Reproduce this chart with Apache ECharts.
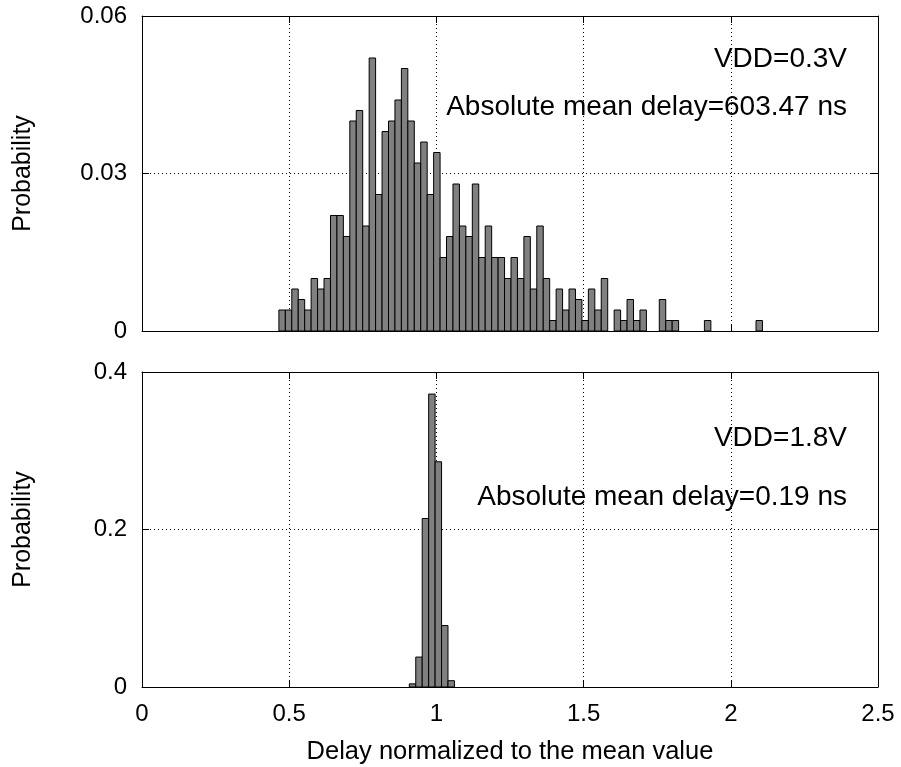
<!DOCTYPE html>
<html>
<head>
<meta charset="utf-8">
<script src="https://cdn.jsdelivr.net/npm/echarts@6/dist/echarts.min.js"></script>
<style>
html, body { margin: 0; padding: 0; background: #fff; }
#chart { width: 901px; height: 767px; }
</style>
</head>
<body>
<div id="chart"></div>
<script>
// histogram bins (x = delay / mean delay), one probability per bin
const binWidth = 0.0219
const lowBinStart = 0.465
const lowProb = [
    0.004, 0.004, 0.008, 0.006, 0.004, 0.010, 0.008, 0.010, 0.022, 0.022,
    0.018, 0.040, 0.042, 0.020, 0.052, 0.026, 0.038, 0.040, 0.044, 0.050,
    0.040, 0.032, 0.036, 0.026, 0.034, 0.014, 0.018, 0.028, 0.020, 0.018,
    0.028, 0.014, 0.020, 0.014, 0.014, 0.010, 0.014, 0.010, 0.018, 0.008,
    0.020, 0.010, 0.002, 0.008, 0.004, 0.008, 0.006, 0.002, 0.008, 0.004,
    0.010, 0, 0.004, 0.002, 0.006, 0.002, 0.004, 0, 0, 0.006,
    0.002, 0.002, 0, 0, 0, 0, 0.002, 0, 0, 0,
    0, 0, 0, 0, 0.002
]
const highBinStart = 0.908
const highProb = [0.004, 0.038, 0.214, 0.372, 0.286, 0.078, 0.008]

const xRange = [0, 2.5, 0.5]
const lowYRange = [0, 0.06, 0.03]
const highYRange = [0, 0.4, 0.2]

const labels = [
    ['VDD=0.3V', 'Absolute mean delay=603.47 ns'],
    ['VDD=1.8V', 'Absolute mean delay=0.19 ns']
]

const font = "'Liberation Sans', Arial, Helvetica, sans-serif"

function toBins(start, probs) {
    return probs
        .map((p, i) => [start + i * binWidth, start + (i + 1) * binWidth, p])
        .filter(d => d[2] > 0)
}

function renderBox(params, api) {
    const a = api.coord([api.value(0), api.value(2)])
    const b = api.coord([api.value(1), 0])
    return {
        type: 'rect',
        shape: { x: a[0], y: a[1], width: b[0] - a[0], height: b[1] - a[1] },
        style: { fill: '#808080', stroke: '#000', lineWidth: 1 }
    }
}

function dotted() {
    return { show: true, lineStyle: { color: '#000', type: [1, 3], width: 1 } }
}
function line() {
    return { show: true, onZero: false, lineStyle: { color: '#000', width: 1 } }
}
function tick() {
    return { show: true, inside: true, length: 7, lineStyle: { color: '#000' } }
}

function xAxis(gridIndex, showLabels, position) {
    return {
        type: 'value', gridIndex, position,
        min: xRange[0], max: xRange[1], interval: xRange[2],
        axisLine: line(), axisTick: tick(),
        splitLine: position === 'bottom' ? dotted() : { show: false },
        axisLabel: {
            show: showLabels, color: '#000', fontSize: 24, fontFamily: font, margin: 15
        },
        name: showLabels ? 'Delay normalized to the mean value' : '',
        nameLocation: 'middle', nameGap: 52,
        nameTextStyle: { color: '#000', fontSize: 25.5, fontFamily: font }
    }
}

function yAxis(gridIndex, range, position) {
    const left = position === 'left'
    return {
        type: 'value', gridIndex, position,
        min: range[0], max: range[1], interval: range[2],
        axisLine: line(), axisTick: tick(),
        splitLine: left ? dotted() : { show: false },
        axisLabel: { show: left, color: '#000', fontSize: 24, fontFamily: font, margin: 15 },
        name: left ? 'Probability' : '',
        nameLocation: 'middle', nameGap: 106,
        nameTextStyle: { color: '#000', fontSize: 25, fontFamily: font }
    }
}

function note(text, y) {
    return {
        type: 'text', x: 847, y,
        style: { text, fill: '#000', fontSize: 28, fontFamily: font, align: 'right', verticalAlign: 'middle' }
    }
}

const chart = echarts.init(document.getElementById('chart'), null, { renderer: 'canvas' })
chart.setOption({
    animation: false,
    backgroundColor: '#fff',
    grid: [
        { left: 142, right: 23, top: 16, height: 315 },
        { left: 142, right: 23, top: 372, height: 315 }
    ],
    xAxis: [
        xAxis(0, false, 'bottom'), xAxis(0, false, 'top'),
        xAxis(1, true, 'bottom'), xAxis(1, false, 'top')
    ],
    yAxis: [
        yAxis(0, lowYRange, 'left'), yAxis(0, lowYRange, 'right'),
        yAxis(1, highYRange, 'left'), yAxis(1, highYRange, 'right')
    ],
    series: [
        {
            type: 'custom', xAxisIndex: 0, yAxisIndex: 0,
            renderItem: renderBox, encode: { x: [0, 1], y: 2 },
            data: toBins(lowBinStart, lowProb)
        },
        {
            type: 'custom', xAxisIndex: 2, yAxisIndex: 2,
            renderItem: renderBox, encode: { x: [0, 1], y: 2 },
            data: toBins(highBinStart, highProb)
        }
    ],
    graphic: [
        note(labels[0][0], 59), note(labels[0][1], 107),
        note(labels[1][0], 438), note(labels[1][1], 497)
    ]
})
</script>
</body>
</html>
